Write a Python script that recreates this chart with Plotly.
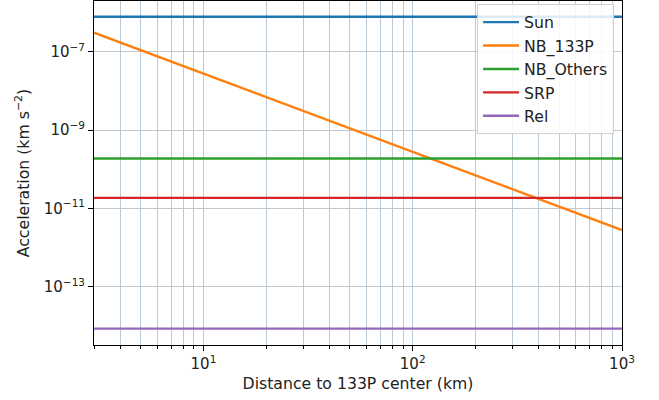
import plotly.graph_objects as go

distance_km = [3, 1000]
sun = [7.9e-7, 7.9e-7]
nb_133p = [3.1e-7, 2.8e-12]
nb_others = [1.88e-10, 1.88e-10]
srp = [1.86e-11, 1.86e-11]
rel = [8.5e-15, 8.5e-15]

series_names = ["Sun", "NB_133P", "NB_Others", "SRP", "Rel"]
series_values = [sun, nb_133p, nb_others, srp, rel]
colors = ["#1f77b4", "#ff7f0e", "#2ca02c", "#d62728", "#9467bd"]

x_major = [10, 100, 1000]
x_major_text = ["10<sup>1</sup>", "10<sup>2</sup>", "10<sup>3</sup>"]
x_minor = [3, 4, 5, 6, 7, 8, 9, 20, 30, 40, 50, 60, 70, 80, 90,
           200, 300, 400, 500, 600, 700, 800, 900]
y_major = [1e-13, 1e-11, 1e-9, 1e-7]
y_major_text = ["10<sup>−13</sup>", "10<sup>−11</sup>", "10<sup>−9</sup>", "10<sup>−7</sup>"]

fig = go.Figure()
for i, (name, vals, c) in enumerate(zip(series_names, series_values, colors)):
    fig.add_trace(go.Scatter(x=distance_km, y=vals, mode="lines", name=name,
                             legendgroup=name,
                             line=dict(color=c, width=2.4)))

font = dict(family="DejaVu Sans", size=15, color="#222")
font_big = dict(family="DejaVu Sans", size=15.7, color="#222")
fig.update_layout(
    width=659, height=400,
    margin=dict(l=94, r=37, t=1, b=55),
    plot_bgcolor="white", paper_bgcolor="white",
    font=font,
    showlegend=True,
    legend=dict(x=0.985, y=0.99, xanchor="right", yanchor="top",
                bgcolor="rgba(255,255,255,0.85)", bordercolor="#d0d0d0",
                borderwidth=1, font=font_big, itemwidth=36,
                tracegroupgap=0, traceorder="grouped"),
)
fig.update_xaxes(
    type="log", range=[0.4771, 3.0],
    tickvals=x_major, ticktext=x_major_text,
    ticks="outside", ticklen=5, tickwidth=1, tickcolor="black",
    showgrid=True, gridcolor="#b9cad6", gridwidth=1,
    minor=dict(tickvals=x_minor, ticks="outside", ticklen=3, tickcolor="black",
               showgrid=True, gridcolor="#b9cad6", gridwidth=1),
    showline=True, linecolor="black", linewidth=1, mirror=True,
    title=dict(text="Distance to 133P center (km)", font=font_big, standoff=6),
    zeroline=False,
)
fig.update_yaxes(
    type="log", range=[-14.49, -5.7],
    tickvals=y_major, ticktext=y_major_text,
    ticks="outside", ticklen=5, tickwidth=1, tickcolor="black",
    showgrid=True, gridcolor="#c4c8cc", gridwidth=1,
    showline=True, linecolor="black", linewidth=1, mirror=True,
    title=dict(text="Acceleration (km s<sup>−2</sup>)", font=font_big, standoff=10),
    zeroline=False,
)
fig.write_html("out.html", config={"displayModeBar": False},
               post_script="document.body.style.margin='0';")
